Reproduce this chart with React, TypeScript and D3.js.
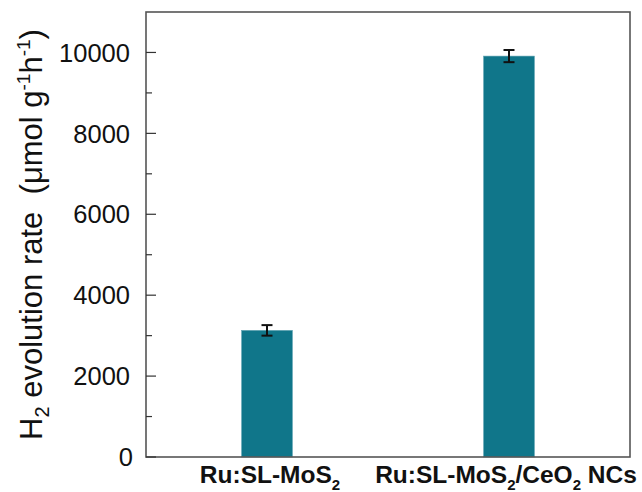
import React from "react";
import * as d3 from "d3";

const categories = ["Ru:SL-MoS2", "Ru:SL-MoS2/CeO2 NCs"];
const rates = [3130, 9910];
const errors = [130, 150];
const majorTicks = [0, 2000, 4000, 6000, 8000, 10000];
const minorTicks = [1000, 3000, 5000, 7000, 9000];

const W = 642, H = 492;
const m = { left: 146, right: 630, top: 12, bottom: 457 };

export default function App() {
  const x = d3.scalePoint<string>().domain(categories).range([m.left, m.right]).padding(0.5);
  const y = d3.scaleLinear().domain([0, 11000]).range([m.bottom, m.top]);
  const step = x.step();
  const bw = step * 0.21;
  const font = "'Liberation Sans', Arial, sans-serif";
  const labelParts = [
    [["Ru:SL-MoS", false], ["2", true]],
    [["Ru:SL-MoS", false], ["2", true], ["/CeO", false], ["2", true], [" NCs", false]],
  ] as [string, boolean][][];
  return (
    <svg width={W} height={H} style={{ position: "absolute", left: 0, top: 0, background: "#fff" }} fontFamily={font}>
      {categories.map((c, i) => (
        <g key={c}>
          <rect x={x(c)! - bw / 2} y={y(rates[i])} width={bw} height={y(0) - y(rates[i])} fill="#10768a" stroke="#5fa3b2" strokeWidth={0.6} />
          <g stroke="#111" strokeWidth={2}>
            <line x1={x(c)} x2={x(c)} y1={y(rates[i] + errors[i])} y2={y(rates[i] - errors[i])} />
            <line x1={x(c)! - 5.5} x2={x(c)! + 5.5} y1={y(rates[i] + errors[i])} y2={y(rates[i] + errors[i])} />
            <line x1={x(c)! - 5.5} x2={x(c)! + 5.5} y1={y(rates[i] - errors[i])} y2={y(rates[i] - errors[i])} />
          </g>
        </g>
      ))}
      <rect x={m.left} y={m.top} width={m.right - m.left} height={m.bottom - m.top} fill="none" stroke="#555" strokeWidth={1.6} />
      {majorTicks.map((t) => (
        <g key={t}>
          <line x1={m.left} x2={m.left + 10} y1={y(t)} y2={y(t)} stroke="#333" strokeWidth={1.2} />
          <text x={t === 0 ? 133 : 130} y={y(t)} dy="0.36em" textAnchor="end" fontSize={25.5} fill="#111">{t}</text>
        </g>
      ))}
      {minorTicks.map((t) => (
        <line key={t} x1={m.left} x2={m.left + 6} y1={y(t)} y2={y(t)} stroke="#333" strokeWidth={1.2} />
      ))}
      {categories.map((c, i) => (
        <text key={c} x={x(c)! + (i === 0 ? 3 : -3)} y={483} textAnchor="middle" fontSize={24.5} fontWeight="bold" fill="#111">
          {labelParts[i].map(([s, sub], j) =>
            sub ? (
              <tspan key={j} fontSize={15} dy={7}>{s}</tspan>
            ) : (
              <tspan key={j} dy={j > 0 ? -7 : 0}>{s}</tspan>
            )
          )}
        </text>
      ))}
      <text transform={`translate(42,${(m.top + m.bottom) / 2}) rotate(-90)`} textAnchor="middle" fontSize={31} fill="#111">
        <tspan>H</tspan>
        <tspan fontSize={20} dy={7}>2</tspan>
        <tspan dy={-7}>{" evolution rate \u00a0(\u03bcmol g"}</tspan>
        <tspan fontSize={19} dy={-12}>-1</tspan>
        <tspan dy={12}>h</tspan>
        <tspan fontSize={19} dy={-12}>-1</tspan>
        <tspan dy={12}>)</tspan>
      </text>
    </svg>
  );
}
